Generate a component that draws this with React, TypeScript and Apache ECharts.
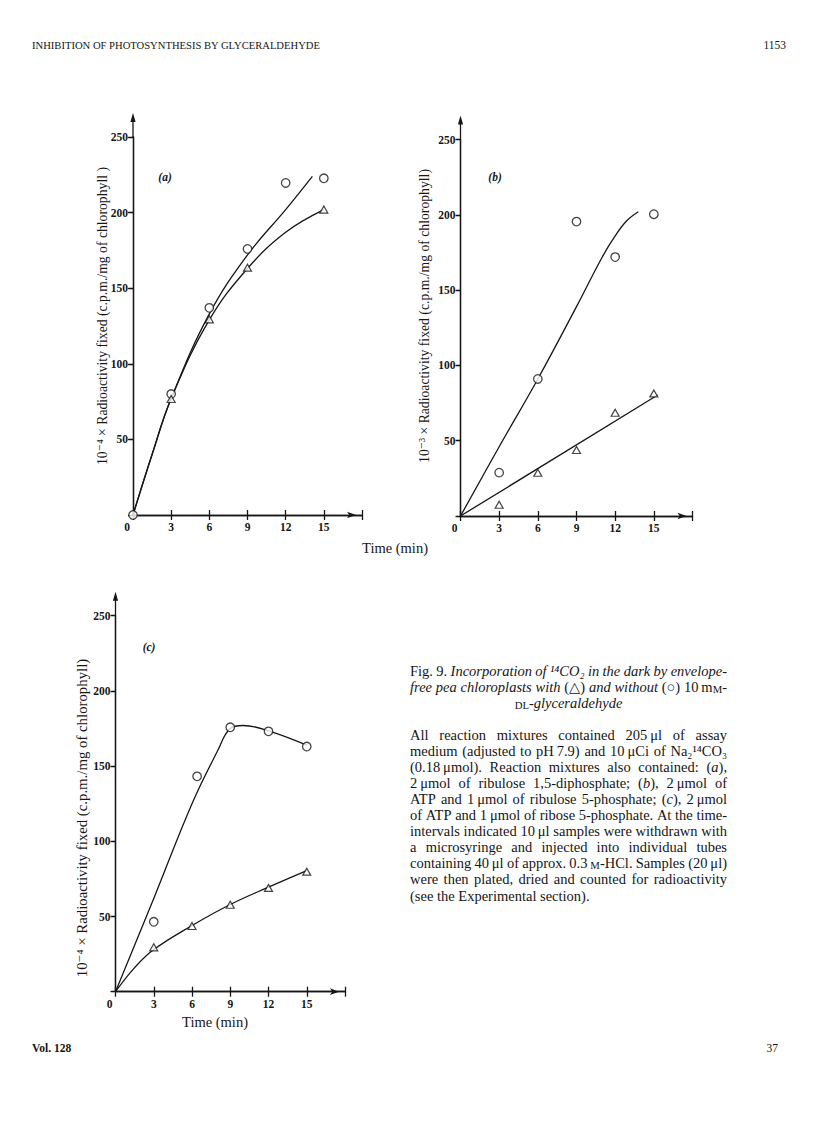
import React, { useEffect, useRef } from 'react';
import * as echarts from 'echarts';

// ---------- data ----------
// Panel (a)
const aCircles = [[0, 0], [3, 80], [6, 137], [9, 176], [12, 219.6], [15, 222.7]];
const aTriangles = [[3, 76.7], [6, 129.4], [9, 163.6], [15, 202]];
const aCircleCurve = [[0, 0], [1.5, 40], [3, 77], [6, 133], [9, 172], [12, 202], [14.1, 224]];
const aTriangleCurve = [[0, 0], [1.5, 40], [3, 77], [6, 129], [9, 163], [12, 187], [15, 202]];

// Panel (b)
const bCircles = [[3, 28.8], [6, 91], [9, 195.5], [12, 171.9], [15, 200.4]];
const bTriangles = [[3, 7.5], [6, 28.7], [9, 43.8], [12, 68.6], [15, 81.4]];
const bCircleCurve = [[0, 0], [3, 46], [6, 91], [9, 139], [11, 172], [12, 186], [12.9, 196], [13.8, 202]];
const bTriangleCurve = [[0, 0], [15.3, 80.3]];

// Panel (c)
const cCircles = [[3, 46.5], [6.4, 143.2], [9, 175.8], [12, 173.1], [15, 163]];
const cTriangles = [[3, 29.5], [6, 43.7], [9, 57.8], [12, 69], [15, 79.8]];
const cCircleCurve = [[0, 0], [3, 62], [6, 125], [8, 160], [9, 175], [10, 177], [12, 173.5], [15, 164]];
const cTriangleCurve = [[0, 0], [1.5, 16], [3, 28], [6, 44], [9, 58], [12, 69.5], [15, 80.5]];

const xRange = [0, 18];
const xStep = 3;
const yRange = [0, 250];
const yStep = 50;

const panelLabels = ['(a)', '(b)', '(c)'];
const yTitles = [
  '10⁻⁴ × Radioactivity fixed (c.p.m./mg of chlorophyll )',
  '10⁻³ × Radioactivity fixed (c.p.m./mg of chlorophyll)',
  '10⁻⁴ × Radioactivity fixed (c.p.m./mg of chlorophyll)',
];
const xTitle = 'Time (min)';

const headerLeft = 'INHIBITION OF PHOTOSYNTHESIS BY GLYCERALDEHYDE';
const headerRight = '1153';
const footerLeft = 'Vol. 128';
const footerRight = '37';

const captionTitle = [
  'Fig. 9. _Incorporation of ¹⁴CO₂ in the dark by envelope-_',
  '_free pea chloroplasts with_ (△) _and without_ (○) 10\u2009m^M^-',
  '^DL^-_glyceraldehyde_',
];
const captionBody = [
  'All reaction mixtures contained 205\u2009μl of assay',
  'medium (adjusted to pH\u20097.9) and 10\u2009μCi of Na₂¹⁴CO₃',
  '(0.18\u2009μmol). Reaction mixtures also contained: (_a_),',
  '2\u2009μmol of ribulose 1,5-diphosphate; (_b_), 2\u2009μmol of',
  'ATP and 1\u2009μmol of ribulose 5-phosphate; (_c_), 2\u2009μmol',
  'of ATP and 1\u2009μmol of ribose 5-phosphate. At the time-',
  'intervals indicated 10\u2009μl samples were withdrawn with',
  'a microsyringe and injected into individual tubes',
  'containing 40\u2009μl of approx. 0.3\u2009^M^-HCl. Samples (20\u2009μl)',
  'were then plated, dried and counted for radioactivity',
  '(see the Experimental section).',
];

// ---------- layout / style ----------
const SERIF = '"Liberation Serif", "DejaVu Serif", serif';
const INK = '#161616';
const grids = [
  { left: 133, top: 137, width: 229, height: 378 },
  { left: 460.5, top: 139.5, width: 232, height: 376.5 },
  { left: 115.5, top: 615.7, width: 229.5, height: 376 },
];
const panelLabelPos = [[165, 177], [495, 177], [149, 647]];
const yTitlePos = [[102, 316], [424, 316], [82, 818]];
const yTitleSize = [13.7, 13.7, 14.8];
const xTitlePos = [[395, 548], [215, 1022]];

type Seg = { t: string; i: boolean; sc: boolean };

let measureCtx: CanvasRenderingContext2D | null = null;
function measure(text: string, italic: boolean, size: number) {
  if (!measureCtx) measureCtx = document.createElement('canvas').getContext('2d');
  measureCtx!.font = `${italic ? 'italic ' : ''}${size}px ${SERIF}`;
  return measureCtx!.measureText(text).width;
}

function parseWords(line: string): Seg[][] {
  const words: Seg[][] = [];
  let cur: Seg[] = [];
  let it = false;
  let sc = false;
  for (const ch of Array.from(line)) {
    if (ch === '_') { it = !it; continue; }
    if (ch === '^') { sc = !sc; continue; }
    if (ch === ' ') { if (cur.length) words.push(cur); cur = []; continue; }
    const last = cur[cur.length - 1];
    if (last && last.i === it && last.sc === sc) last.t += ch;
    else cur.push({ t: ch, i: it, sc });
  }
  if (cur.length) words.push(cur);
  return words;
}

function layoutLine(line: string, x0: number, y: number, width: number, mode: string, size: number) {
  const words = parseWords(line);
  const segSize = (s: Seg) => (s.sc ? size * 0.74 : size);
  const wordW = words.map((w) => w.reduce((acc, s) => acc + measure(s.t, s.i, segSize(s)), 0));
  const total = wordW.reduce((a, b) => a + b, 0);
  const space = measure(' ', false, size);
  let gap = space;
  let x = x0;
  if (mode === 'justify' && words.length > 1) gap = (width - total) / (words.length - 1);
  if (mode === 'center') x = x0 + width / 2 - (total + space * (words.length - 1)) / 2;
  const els: any[] = [];
  words.forEach((w, wi) => {
    let sx = x;
    w.forEach((s) => {
      const fs = segSize(s);
      els.push({
        type: 'text', x: sx, y: y + (s.sc ? size * 0.12 : 0), silent: true,
        style: {
          text: s.t, fill: INK, fontFamily: SERIF, fontSize: fs, fontStyle: s.i ? 'italic' : 'normal',
          align: 'left', verticalAlign: 'middle', textAlign: 'left', textVerticalAlign: 'middle',
        },
      });
      sx += measure(s.t, s.i, fs);
    });
    x += wordW[wi] + gap;
  });
  return els;
}

function txt(text: string, x: number, y: number, size: number, opts: any = {}) {
  return {
    type: 'text', x, y, rotation: opts.rotation || 0, silent: true,
    style: {
      text, fill: INK, fontFamily: SERIF, fontSize: size,
      fontStyle: opts.italic ? 'italic' : 'normal', fontWeight: opts.bold ? 'bold' : 'normal',
      align: opts.align || 'left', textAlign: opts.align || 'left',
      verticalAlign: 'middle', textVerticalAlign: 'middle',
    },
  };
}

const lineStyle = { color: INK, width: 1.3 };
const labelFont = { fontFamily: SERIF, fontWeight: 'bold' as const, fontSize: 11.5, color: INK };

function buildOption() {
  const xAxis: any[] = [];
  const yAxis: any[] = [];
  const series: any[] = [];
  const graphic: any[] = [];
  const data = [
    [aCircles, aTriangles, aCircleCurve, aTriangleCurve],
    [bCircles, bTriangles, bCircleCurve, bTriangleCurve],
    [cCircles, cTriangles, cCircleCurve, cTriangleCurve],
  ];
  grids.forEach((g, gi) => {
    xAxis.push({
      gridIndex: gi, type: 'value', position: 'bottom', min: xRange[0], max: xRange[1], interval: xStep,
      axisLine: { show: true, lineStyle, symbol: ['none', 'arrow'], symbolSize: [5, 9], symbolOffset: [0, -6] },
      axisTick: { show: true, inside: true, length: 5, lineStyle },
      splitLine: { show: false },
      axisLabel: {
        ...labelFont, margin: 6, showMinLabel: true, showMaxLabel: true,
        formatter: (v: number) => (v === xRange[1] ? '' : v === 0 ? '{z|0}' : String(v)),
        rich: { z: { ...labelFont, padding: [0, 12, 0, 0] } },
      },
    });
    xAxis.push({
      gridIndex: gi, type: 'value', position: 'top', min: xRange[0], max: xRange[1], interval: xStep,
      axisLine: { show: true, lineStyle }, axisTick: { show: true, inside: true, length: 5, lineStyle },
      axisLabel: { show: false }, splitLine: { show: false },
    });
    yAxis.push({
      gridIndex: gi, type: 'value', position: 'left', min: yRange[0], max: yRange[1], interval: yStep,
      axisLine: { show: true, lineStyle }, axisTick: { show: true, inside: false, length: 4, lineStyle },
      splitLine: { show: false },
      axisLabel: { ...labelFont, margin: 5, formatter: (v: number) => (v === 0 ? '' : String(v)) },
    });
    yAxis.push({
      gridIndex: gi, type: 'value', position: 'right', min: yRange[0], max: yRange[1], interval: yStep,
      axisLine: { show: true, lineStyle }, axisTick: { show: true, inside: true, length: 5, lineStyle },
      axisLabel: { show: false }, splitLine: { show: false },
    });
    const [circ, tri, cc, tc] = data[gi];
    const common = { xAxisIndex: gi * 2, yAxisIndex: gi * 2 };
    series.push({ ...common, type: 'line', data: cc, smooth: 0.4, symbol: 'none', lineStyle, z: 2 });
    series.push({ ...common, type: 'line', data: tc, smooth: 0.4, symbol: 'none', lineStyle, z: 2 });
    series.push({
      ...common, type: 'scatter', data: circ, symbol: 'circle', symbolSize: 8.5, z: 3,
      itemStyle: { color: '#fff', borderColor: INK, borderWidth: 1.3 },
    });
    series.push({
      ...common, type: 'scatter', data: tri, symbol: 'triangle', symbolSize: [8, 7], z: 3,
      itemStyle: { color: '#fff', borderColor: INK, borderWidth: 1.2 },
    });
    // y-axis arrow extension above the frame
    graphic.push({ type: 'line', silent: true, shape: { x1: g.left, y1: g.top, x2: g.left, y2: g.top - 17 }, style: { stroke: INK, lineWidth: 1.3 } });
    graphic.push({
      type: 'polygon', silent: true,
      shape: { points: [[g.left, g.top - 24], [g.left - 2.6, g.top - 15], [g.left + 2.6, g.top - 15]] },
      style: { fill: INK },
    });
    graphic.push(txt(panelLabels[gi], panelLabelPos[gi][0], panelLabelPos[gi][1], 11.5, { italic: true, bold: true, align: 'center' }));
    graphic.push(txt(yTitles[gi], yTitlePos[gi][0], yTitlePos[gi][1], yTitleSize[gi], { rotation: Math.PI / 2, align: 'center' }));
  });
  xTitlePos.forEach((p) => graphic.push(txt(xTitle, p[0], p[1], 14.5, { align: 'center' })));

  graphic.push(txt(headerLeft, 32, 45, 10.6));
  graphic.push(txt(headerRight, 786, 45, 11.5, { align: 'right' }));
  graphic.push(txt(footerLeft, 32, 1048, 11.5, { bold: true }));
  graphic.push(txt(footerRight, 778, 1048, 11.5, { align: 'right' }));

  const cx = 410;
  const cw = 317;
  const capSize = 14.5;
  captionTitle.forEach((l, i) => {
    graphic.push(...layoutLine(l, cx, 671 + i * 16, cw, i === 2 ? 'center' : 'justify', capSize));
  });
  captionBody.forEach((l, i) => {
    graphic.push(...layoutLine(l, cx, 735 + i * 16.05, cw, i === captionBody.length - 1 ? 'left' : 'justify', capSize));
  });

  return {
    animation: false,
    backgroundColor: '#fff',
    grid: grids.map((g) => ({ ...g, containLabel: false })),
    xAxis, yAxis, series, graphic,
  };
}

export default function App() {
  const ref = useRef<HTMLDivElement>(null);
  useEffect(() => {
    if (!ref.current) return;
    const chart = echarts.init(ref.current, undefined, { renderer: 'svg' });
    chart.setOption(buildOption() as any);
    return () => chart.dispose();
  }, []);
  return (
    <div
      ref={ref}
      style={{ position: 'absolute', left: 0, top: 0, width: 816, height: 1136, background: '#fff' }}
    />
  );
}
